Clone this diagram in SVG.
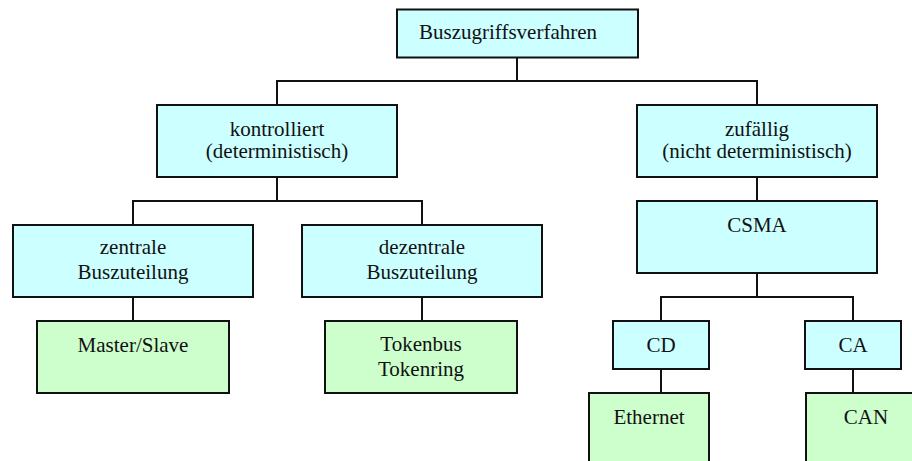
<svg xmlns="http://www.w3.org/2000/svg" width="912" height="461" viewBox="0 0 912 461">
  <style>
    .box { stroke: #111; stroke-width: 2; }
    .blue { fill: #CCFFFF; }
    .green { fill: #CCFFCC; }
    .lbl { font-family: 'Liberation Serif', 'DejaVu Serif', 'Noto Serif', serif; font-size: 21px; fill: #111; text-anchor: middle; }
    .conn { fill: none; stroke: #111; stroke-width: 2; }
  </style>
  <rect width="912" height="461" fill="#fff"/>

  <!-- connectors -->
  <g id="connectors" class="conn">
    <path d="M517,57 V81 M277,105 V81 H757 V105"/>
    <path d="M277,177 V201 M133,225 V201 H422 V225"/>
    <path d="M757,177 V201"/>
    <path d="M133,297 V321"/>
    <path d="M422,297 V321"/>
    <path d="M757,273 V297 M661,321 V297 H853 V321"/>
    <path d="M661,369 V393"/>
    <path d="M853,369 V393"/>
  </g>

  <g id="buszugriffsverfahren">
    <rect class="box blue" x="397" y="9.5" width="241" height="48"/>
    <text class="lbl" x="508" y="39">Buszugriffsverfahren</text>
  </g>

  <g id="kontrolliert">
    <rect class="box blue" x="157" y="105" width="240" height="72"/>
    <text class="lbl" x="277" y="136">kontrolliert</text>
    <text class="lbl" x="277" y="158">(deterministisch)</text>
  </g>

  <g id="zufaellig">
    <rect class="box blue" x="637" y="105" width="240" height="72"/>
    <text class="lbl" x="757" y="136">zufällig</text>
    <text class="lbl" x="757" y="158">(nicht deterministisch)</text>
  </g>

  <g id="zentrale">
    <rect class="box blue" x="13" y="225" width="240" height="72"/>
    <text class="lbl" x="133" y="254">zentrale</text>
    <text class="lbl" x="133" y="279">Buszuteilung</text>
  </g>

  <g id="dezentrale">
    <rect class="box blue" x="302" y="225" width="240" height="72"/>
    <text class="lbl" x="422" y="254">dezentrale</text>
    <text class="lbl" x="422" y="279">Buszuteilung</text>
  </g>

  <g id="csma">
    <rect class="box blue" x="637" y="201" width="240" height="72"/>
    <text class="lbl" x="757" y="232">CSMA</text>
  </g>

  <g id="master-slave">
    <rect class="box green" x="37" y="321" width="192" height="72"/>
    <text class="lbl" x="133" y="352">Master/Slave</text>
  </g>

  <g id="token">
    <rect class="box green" x="325" y="321" width="192" height="72"/>
    <text class="lbl" x="421" y="351">Tokenbus</text>
    <text class="lbl" x="421" y="376">Tokenring</text>
  </g>

  <g id="cd">
    <rect class="box blue" x="613" y="321" width="96" height="48"/>
    <text class="lbl" x="661" y="352">CD</text>
  </g>

  <g id="ca">
    <rect class="box blue" x="805" y="321" width="96" height="48"/>
    <text class="lbl" x="853" y="352">CA</text>
  </g>

  <g id="ethernet">
    <rect class="box green" x="589" y="393" width="120" height="72"/>
    <text class="lbl" x="649" y="423.5">Ethernet</text>
  </g>

  <g id="can">
    <rect class="box green" x="806" y="393" width="120" height="72"/>
    <text class="lbl" x="866" y="423.5">CAN</text>
  </g>
</svg>
